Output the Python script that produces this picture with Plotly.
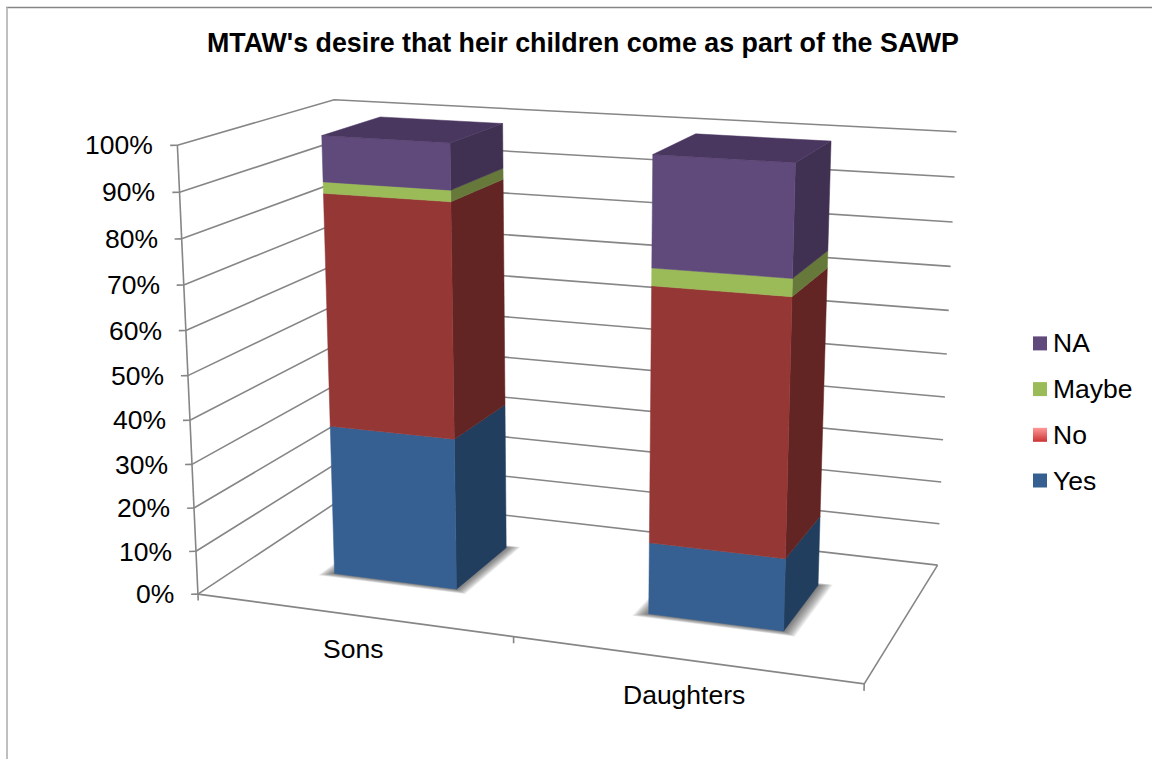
import numpy as np
import plotly.graph_objects as go

# Chart data (percent of respondents)
title = "MTAW's desire that heir children come as part of the SAWP"
categories = ["Sons", "Daughters"]
series = ["Yes", "No", "Maybe", "NA"]
yes = [34.8, 16.2]
no = [52.6, 56.3]
maybe = [2.5, 3.8]
na = [10.1, 23.7]
percent_ticks = list(range(0, 101, 10))

# Face colours per series: front, side
front_colors = ["#376092", "#953735", "#9BBB59", "#604A7B"]
side_colors = ["#223E5F", "#632523", "#67793A", "#403152"]
top_color = "#4A3760"
line_color = "#868686"
font = "Liberation Sans, Arial, sans-serif"
label_size = 26.5

W, H = 1152, 759

# Perspective camera for the 3-D box: plot space is x (categories), y (depth), z (share) in 0..1
EYE = np.array([2.1773, -5.9757, 1.6399])
YAW, PITCH = -0.3487, 0.2590
BOX_Y, BOX_Z = 0.9971, 1.3322
FOCAL = 2243.87
BAR_HALF_WIDTH, BAR_Y0, BAR_Y1 = 0.10, 0.30, 0.70

_d = np.array([np.sin(YAW) * np.cos(PITCH), np.cos(YAW) * np.cos(PITCH), -np.sin(PITCH)])
_r = np.cross(_d, [0.0, 0.0, 1.0])
_r /= np.linalg.norm(_r)
_u = np.cross(_r, _d)


def project(x, y, z):
    """Map a point of the box to the 2-D plot coordinates."""
    v = np.array([(x - 0.5) * 2, (y - 0.5) * BOX_Y, (z - 0.5) * BOX_Z]) - EYE
    depth = v @ _d
    return W / 2 + FOCAL * (v @ _r) / depth, H / 2 - FOCAL * (v @ _u) / depth


def polyline(points):
    xy = [project(*p) for p in points]
    return [q[0] for q in xy], [q[1] for q in xy]


def lines_trace(segments, width=1.6):
    xs, ys = [], []
    for seg in segments:
        sx, sy = polyline(seg)
        xs += sx + [None]
        ys += sy + [None]
    return go.Scatter(x=xs, y=ys, mode="lines", hoverinfo="skip", showlegend=False,
                      line=dict(color=line_color, width=width))


def face(points, color, name=None):
    sx, sy = polyline(points)
    return go.Scatter(x=sx + sx[:1], y=sy + sy[:1], mode="lines", fill="toself", fillcolor=color,
                      line=dict(color=color, width=0.5), name=name, showlegend=False, hoverinfo="skip")


fig = go.Figure()

# Walls, floor edges and tick marks
grid = []
for t in percent_ticks:
    z = t / 100
    grid.append([(0, 0, z), (0, 1, z), (1, 1, z)])
    grid.append([(-0.009, -0.0085, z), (0, 0, z)])
grid.append([(0, 0, 0), (0, 0, 1)])
grid.append([(0, 0, 0), (1, 0, 0), (1, 1, 0)])
for t in (0, 0.5, 1):
    grid.append([(t, 0, 0), (t, 0, -0.015)])
fig.add_trace(lines_trace(grid))

# Soft shadows on the floor, built from stacked translucent layers
stack = np.array([yes, no, maybe, na])
for i in range(len(categories)):
    cx = 0.25 + 0.5 * i
    for k in np.linspace(1, 0.1, 10):
        x0, x1 = cx - BAR_HALF_WIDTH - 0.02 * k, cx + BAR_HALF_WIDTH + 0.02 * k
        y0, y1 = BAR_Y0 - 0.03 * k, BAR_Y1 + 0.02 * k
        sx, sy = polyline([(x0, y0, 0), (x1, y0, 0), (x1, y1, 0), (x0, y1, 0), (x0, y0, 0)])
        fig.add_trace(go.Scatter(x=sx, y=sy, mode="lines", fill="toself", fillcolor="rgba(60,60,60,0.09)",
                                 line=dict(width=0), showlegend=False, hoverinfo="skip"))

# Stacked bars: side and front of each segment, top of the last one
for i in range(len(categories)):
    cx = 0.25 + 0.5 * i
    x0, x1 = cx - BAR_HALF_WIDTH, cx + BAR_HALF_WIDTH
    base = 0.0
    for s, name in enumerate(series):
        top = base + stack[s, i] / 100
        fig.add_trace(face([(x1, BAR_Y0, base), (x1, BAR_Y1, base), (x1, BAR_Y1, top), (x1, BAR_Y0, top)], side_colors[s]))
        fig.add_trace(face([(x0, BAR_Y0, base), (x1, BAR_Y0, base), (x1, BAR_Y0, top), (x0, BAR_Y0, top)], front_colors[s], name))
        base = top
    fig.add_trace(face([(x0, BAR_Y0, base), (x1, BAR_Y0, base), (x1, BAR_Y1, base), (x0, BAR_Y1, base)], top_color))

annotations = []

# Percent axis labels
for t in percent_ticks:
    px, py = project(-0.009, -0.0085, t / 100)
    annotations.append(dict(x=px, y=py, text=f"{t}%", xanchor="right", yanchor="middle", xshift=-15,
                            showarrow=False, font=dict(family=font, size=label_size, color="#000000")))

# Category labels
for i, cat in enumerate(categories):
    px, py = project(0.25 + 0.5 * i, 0, -0.078)
    annotations.append(dict(x=px, y=py, text=cat, xanchor="center", yanchor="middle",
                            showarrow=False, font=dict(family=font, size=label_size, color="#000000")))

# Legend column, top entry is the last series
key_colors = [front_colors[0], "#FF9999", front_colors[2], front_colors[3]]
for s, name in enumerate(series):
    row_y = 480.5 - 45.7 * s
    marker = dict(symbol="square", size=14, color=key_colors[s], line=dict(width=0))
    if name == "No":
        marker["gradient"] = dict(type="vertical", color="#CC3333")
    fig.add_trace(go.Scatter(x=[1040], y=[row_y], mode="markers", marker=marker, name=name,
                             showlegend=False, hoverinfo="skip"))
    annotations.append(dict(x=1051, y=row_y, text=name, xanchor="left", yanchor="middle", showarrow=False,
                            font=dict(family=font, size=label_size, color="#000000")))

annotations.append(dict(x=583, y=43, text=f"<b>{title}</b>", xanchor="center", yanchor="middle", showarrow=False,
                        font=dict(family=font, size=26.8, color="#000000")))

fig.update_layout(
    width=W, height=H, margin=dict(l=0, r=0, t=0, b=0), showlegend=False,
    paper_bgcolor="#FFFFFF", plot_bgcolor="#FFFFFF",
    xaxis=dict(range=[0, W], visible=False, fixedrange=True),
    yaxis=dict(range=[H, 0], visible=False, fixedrange=True),
    annotations=annotations,
    shapes=[
        dict(type="line", x0=6, x1=W, y0=7.5, y1=7.5, line=dict(color="#868686", width=1.5)),
        dict(type="line", x0=7, x1=7, y0=7.5, y1=H, line=dict(color="#BFBFBF", width=2)),
    ],
)
fig.write_html("out.html", config=dict(displayModeBar=False))
